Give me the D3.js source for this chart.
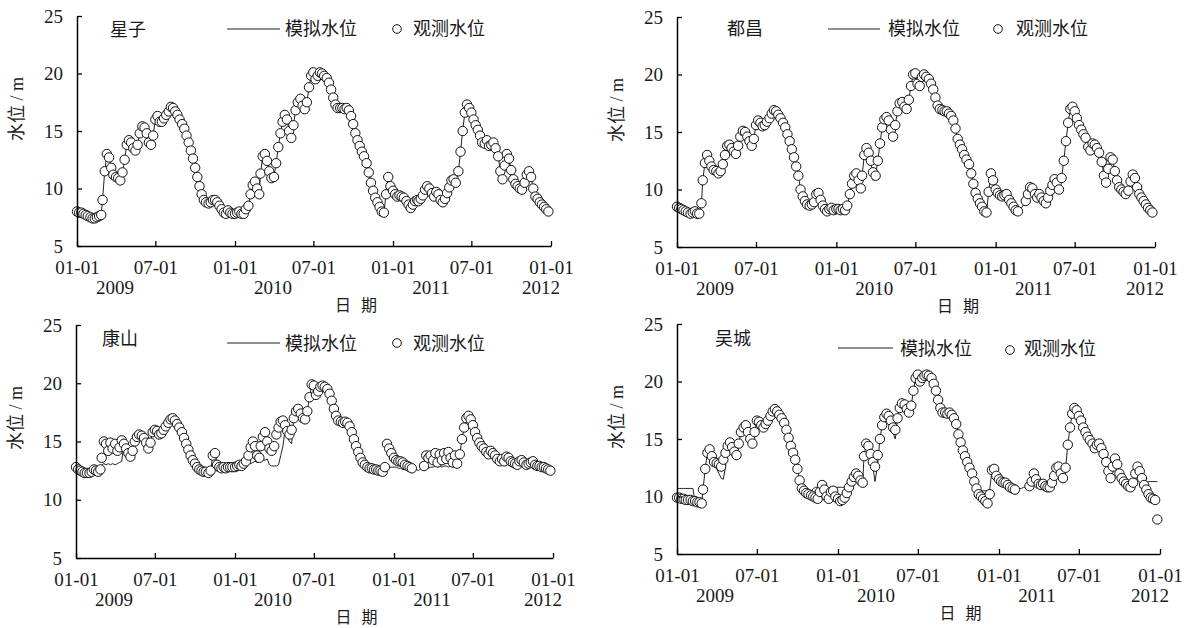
<!DOCTYPE html>
<html>
<head>
<meta charset="utf-8">
<script src="https://cdn.jsdelivr.net/npm/d3@7"></script>
<style>
  body { margin: 0; background: #fff; }
  svg { display: block; }
</style>
</head>
<body>
<svg id="chart" width="1188" height="628"></svg>
<script>
// 每月取 1、6、11、16、21、26 日的读数，2009-01 至 2011-12
const years = [2009, 2010, 2011];
const sampleDays = [1, 6, 11, 16, 21, 26];

const stations = ['星子', '都昌', '康山', '吴城'];
const legendSim = '模拟水位';
const legendObs = '观测水位';
const xTickDates = ['2009-01-01', '2009-07-01', '2010-01-01', '2010-07-01', '2011-01-01', '2011-07-01', '2012-01-01'];
const xTickLabels = ['01-01', '07-01', '01-01', '07-01', '01-01', '07-01', '01-01'];
const yearLabels = ['2009', '2010', '2011', '2012'];
const yTicks = [5, 10, 15, 20, 25];

const obsXingzi = [
  8.0, 7.9, 7.9, 7.8, 7.7, 7.6,  7.5, 7.4, 7.4, 7.5, 7.6, 7.7,
  9.0, 11.5, 13.0, 12.7, 11.8, 11.2,  11.0, 10.9, 10.7, 11.4, 12.5, 13.8,
  14.2, 14.0, 13.5, 13.3, 13.8, 14.8,  15.4, 15.3, 14.8, 14.0, 13.8, 14.6,
  16.0, 16.3, 15.8, 15.8, 16.1, 16.4,  16.7, 17.1, 17.0, 16.7, 16.4, 16.0,
  15.6, 15.2, 14.6, 14.0, 13.3, 12.6,  11.8, 11.0, 10.2, 9.5, 9.0, 8.8,
  8.7, 8.8, 9.0, 9.0, 8.8, 8.5,  8.2, 7.9, 7.8, 8.1, 7.9, 7.8,
  7.8, 7.9, 8.0, 7.8, 7.8, 8.2,  8.5, 9.5, 10.3, 10.6, 10.0, 9.5,
  11.3, 12.8, 13.0, 12.4, 11.5, 10.9,  11.0, 12.2, 13.6, 14.8, 15.8, 16.4,
  16.0, 15.0, 14.4, 15.5, 16.8, 17.5,  17.8, 17.2, 16.9, 17.5, 18.8, 19.8,
  20.1, 19.5, 19.8, 20.1, 20.0, 19.8,  19.6, 19.2, 18.6, 17.9, 17.3, 17.0,
  17.0, 17.0, 16.9, 17.0, 16.8, 16.3,  15.6, 14.8, 14.2, 13.7, 13.2, 12.8,
  12.2, 11.4, 10.5, 9.8, 9.2, 8.8,  8.4, 8.0, 7.9, 9.5, 11.0, 10.2,
  9.8, 9.5, 9.3, 9.4, 9.3, 9.2,  8.9, 8.6, 8.3, 8.6, 8.9, 9.0,
  8.9, 9.1, 9.4, 9.9, 10.2, 10.0,  9.6, 9.3, 9.7, 9.5, 9.0, 8.8,
  9.1, 9.6, 10.1, 10.7, 10.8, 10.5,  11.5, 13.2, 15.0, 16.6, 17.3, 17.0,
  16.6, 16.0, 15.5, 15.1, 14.6, 14.0,  13.9, 14.2, 13.7, 13.8, 14.0, 13.5,
  12.8, 11.5, 10.8, 12.0, 13.0, 12.6,  11.6, 10.8, 10.4, 10.2, 10.0, 9.9,
  10.5, 11.2, 11.5, 11.0, 10.0, 9.3,  9.1, 8.8, 8.6, 8.4, 8.2, 8.0
];
const simXingzi = [
  8.0, 7.9, 7.9, 7.8, 7.7, 7.6,  7.5, 7.4, 7.4, 7.5, 7.6, 7.7,
  9.0, 11.5, 13.0, 12.7, 11.8, 11.2,  11.0, 10.9, 10.7, 11.4, 12.5, 13.8,
  14.2, 14.0, 13.5, 13.3, 13.8, 14.8,  15.4, 15.3, 14.8, 14.0, 13.8, 14.6,
  16.0, 16.3, 15.8, 15.8, 16.1, 16.4,  16.7, 17.1, 17.0, 16.7, 16.4, 16.0,
  15.6, 15.2, 14.6, 14.0, 13.3, 12.6,  11.8, 11.0, 10.2, 9.5, 9.0, 8.8,
  8.7, 8.8, 9.0, 9.0, 8.8, 8.5,  8.2, 7.9, 7.8, 8.1, 7.9, 7.8,
  7.8, 7.9, 8.0, 7.8, 7.8, 8.2,  8.5, 9.5, 10.3, 10.6, 10.0, 9.5,
  11.3, 12.8, 13.0, 12.4, 11.5, 10.9,  11.0, 12.2, 13.6, 14.8, 15.8, 16.4,
  16.0, 15.0, 14.4, 15.5, 16.8, 17.5,  17.8, 17.2, 16.9, 17.5, 18.8, 19.8,
  20.1, 19.5, 19.8, 20.1, 20.0, 19.8,  19.6, 19.2, 18.6, 17.9, 17.3, 17.0,
  17.0, 17.0, 16.9, 17.0, 16.8, 16.3,  15.6, 14.8, 14.2, 13.7, 13.2, 12.8,
  12.2, 11.4, 10.5, 9.8, 9.2, 8.8,  8.4, 8.0, 7.9, 9.5, 11.0, 10.2,
  9.8, 9.5, 9.3, 9.4, 9.3, 9.2,  8.9, 8.6, 8.3, 8.6, 8.9, 9.0,
  8.9, 9.1, 9.4, 9.9, 10.2, 10.0,  9.6, 9.3, 9.7, 9.5, 9.0, 8.8,
  9.1, 9.6, 10.1, 10.7, 10.8, 10.5,  11.5, 13.2, 15.0, 16.6, 17.3, 17.0,
  16.6, 16.0, 15.5, 15.1, 14.6, 14.0,  13.9, 14.2, 13.7, 13.8, 14.0, 13.5,
  12.8, 11.5, 10.8, 12.0, 13.0, 12.6,  11.6, 10.8, 10.4, 10.2, 10.0, 9.9,
  10.5, 11.2, 11.5, 11.0, 10.0, 9.3,  9.1, 8.8, 8.6, 8.4, 8.2, 8.0
];

const obsDuchang = [
  8.5, 8.4, 8.3, 8.2, 8.1, 8.0,  7.9, 8.0, 8.1, 7.9, 7.9, 8.8,
  10.8, 12.3, 13.0, 12.5, 12.0, 11.7,  11.6, 11.4, 11.6, 12.2, 13.0, 13.8,
  13.9, 13.6, 13.3, 13.1, 13.8, 14.6,  15.1, 15.0, 14.6, 14.2, 13.8, 14.4,
  15.6, 16.0, 15.8, 15.5, 15.6, 15.9,  16.2, 16.6, 16.9, 16.8, 16.5, 16.2,
  15.8, 15.4, 14.8, 14.2, 13.5, 12.8,  12.0, 11.2, 10.0, 9.4, 9.0, 8.7,
  8.6, 8.7, 8.9, 9.6, 9.7, 9.1,  8.6, 8.3, 8.1, 8.3, 8.4, 8.2,
  8.3, 8.3, 8.2, 8.3, 8.2, 8.6,  9.6, 10.5, 11.2, 11.4, 10.8, 10.1,
  11.2, 13.0, 13.6, 13.2, 12.5, 11.5,  11.2, 12.5, 14.0, 15.4, 16.1, 16.3,
  16.0, 15.2, 14.6, 15.6, 16.8, 17.5,  17.6, 17.2, 17.0, 17.8, 19.0, 20.0,
  20.1, 19.2, 19.0, 19.8, 20.0, 19.8,  19.6, 19.2, 18.7, 18.0, 17.3, 17.0,
  16.9, 16.8, 16.8, 16.6, 16.4, 16.0,  15.3, 14.4, 13.9, 13.5, 13.0, 12.6,
  12.2, 11.4, 10.5, 9.7, 9.2, 8.8,  8.5, 8.1, 8.0, 9.8, 11.4, 10.8,
  10.0, 9.7, 9.5, 9.4, 9.5, 9.6,  9.1, 8.8, 8.5, 8.2, 8.1, null,
  null, null, 9.0, 9.6, 10.2, 10.1,  9.6, 9.3, 9.6, 9.3, 9.0, 8.8,
  9.3, 9.9, 10.4, 10.9, 10.6, 10.0,  11.0, 12.5, 14.2, 15.8, 17.0, 17.2,
  16.8, 16.2, 15.6, 15.2, 14.8, 14.5,  13.7, 13.4, 14.0, 13.9, 13.6, 13.2,
  12.4, 11.2, 10.6, 11.8, 12.8, 12.6,  11.6, 10.8, 10.2, 10.0, 9.8, 9.6,
  9.9, 10.7, 11.3, 11.0, 10.2, 9.6,  9.3, 9.0, 8.7, 8.4, 8.2, 8.0
];
const simDuchang = [
  8.5, 8.4, 8.3, 8.2, 8.1, 8.0,  7.9, 8.0, 8.1, 7.9, 7.9, 8.8,
  10.8, 12.3, 13.0, 12.5, 12.0, 11.7,  11.6, 11.4, 11.6, 12.2, 13.0, 13.8,
  13.9, 13.6, 13.3, 13.1, 13.8, 14.6,  15.1, 15.0, 14.6, 14.2, 13.8, 14.4,
  15.6, 16.0, 15.8, 15.5, 15.6, 15.9,  16.2, 16.6, 16.9, 16.8, 16.5, 16.2,
  15.8, 15.4, 14.8, 14.2, 13.5, 12.8,  12.0, 11.2, 10.0, 9.4, 9.0, 8.7,
  8.6, 8.7, 8.9, 9.6, 9.7, 9.1,  8.6, 8.3, 8.1, 8.3, 8.4, 8.2,
  8.3, 8.3, 8.2, 8.3, 8.2, 8.6,  9.6, 10.5, 11.2, 11.4, 10.8, 10.1,
  11.2, 13.0, 13.6, 13.2, 12.5, 10.8,  11.2, 12.5, 14.0, 15.4, 16.1, 16.3,
  16.0, 15.2, 14.6, 15.6, 16.8, 17.5,  17.6, 17.2, 17.0, 17.8, 19.0, 20.0,
  20.1, 19.2, 19.0, 19.8, 20.0, 19.8,  19.6, 19.2, 18.7, 18.0, 17.3, 17.0,
  16.9, 16.8, 16.8, 16.6, 16.4, 16.0,  15.3, 14.4, 13.9, 13.5, 13.0, 12.6,
  12.2, 11.4, 10.5, 9.7, 9.2, 8.8,  8.5, 8.1, 8.0, 9.8, 11.4, 10.8,
  10.0, 9.7, 9.5, 9.4, 9.5, 9.6,  9.1, 8.8, 8.5, 8.2, 8.1, 8.2,
  8.4, 8.7, 9.0, 9.6, 10.2, 10.1,  9.6, 9.3, 9.6, 9.3, 9.0, 8.8,
  9.3, 9.9, 10.4, 10.9, 10.6, 10.0,  11.0, 12.5, 14.2, 15.8, 17.0, 17.2,
  16.8, 16.2, 15.6, 15.2, 14.8, 14.5,  13.7, 13.4, 14.0, 13.9, 13.6, 13.2,
  12.4, 11.2, 10.6, 11.8, 12.8, 12.6,  11.6, 10.8, 10.2, 10.0, 9.8, 9.6,
  9.9, 10.7, 11.3, 11.0, 10.2, 9.6,  9.3, 9.0, 8.7, 8.4, 8.2, 8.0
];

const obsKangshan = [
  12.8, 12.6, 12.5, 12.4, 12.3, 12.3,  12.3, 12.4, 12.6, 12.5, 12.4, 12.6,
  13.6, 15.0, 14.8, 14.2, 14.9, 14.4,  14.8, 14.2, 14.5, 15.1, 14.8, 14.4,
  14.0, 13.7, 14.2, 15.0, 15.4, 15.6,  15.5, 15.3, 14.9, 14.4, 14.9, 15.8,
  16.0, 15.9, 15.6, 15.7, 16.0, 16.3,  16.6, 16.9, 17.0, 16.8, 16.5, 16.2,
  15.8, 15.3, 14.8, 14.3, 13.8, 13.4,  13.1, 12.8, 12.6, 12.5, 12.4, 12.4,
  12.3, 12.5, 13.8, 14.0, 13.0, 12.8,  12.7, 12.8, 12.7, 12.8, 12.8, 12.8,
  12.8, 12.9, 13.0, 12.9, 13.1, 13.3,  13.8, 14.5, 15.0, 14.6, 13.8, 13.6,
  14.6, 15.4, 15.8, 15.0, 14.4, 14.2,  14.6, 15.6, 16.2, 16.7, 16.8, 16.4,
  15.9, 15.6, 16.0, 17.0, 17.6, 17.8,  17.4, 17.0, 16.9, 17.6, 18.8, 19.9,
  19.8, 19.0, 19.3, 19.7, 19.8, 19.7,  19.5, 19.1, 18.5, 17.8, 17.2, 16.8,
  16.7, 16.6, 16.7, 16.6, 16.3, 15.8,  15.2, 14.6, 14.1, 13.6, 13.2, 13.0,
  12.8, 12.7, 12.7, 12.6, 12.6, 12.5,  12.5, 12.4, 12.8, 14.8, 14.4, 14.0,
  13.6, 13.4, 13.3, 13.3, 13.2, 13.0,  12.9, 12.8, 12.7, null, null, null,
  null, null, 12.9, 13.8, 13.6, 13.8,  13.4, 14.0, 13.2, 13.9, 13.4, 14.0,
  13.5, 14.1, 13.6, 13.2, 13.8, 13.1,  13.9, 15.2, 16.2, 17.0, 17.2, 16.9,
  16.4, 15.8, 15.3, 14.9, 14.6, 14.4,  14.1, 13.9, 14.2, 14.0, 13.8, 13.5,
  13.3, 13.5, 13.3, 13.7, 13.6, 13.3,  13.2, 13.1, 13.0, 13.3, 13.4, 13.2,
  13.0, 13.1, 13.2, 13.3, 13.0, 12.9,  12.9, 12.8, 12.8, 12.7, 12.6, 12.5
];
const simKangshan = [
  12.8, 12.6, 12.5, 12.4, 12.3, 12.3,  12.3, 12.4, 12.6, 12.5, 12.4, 12.6,
  13.0, 13.1, 13.0, 13.1, 13.0, 13.1,  13.0, 13.1, 13.2, 13.3, 14.8, 14.4,
  14.0, 13.7, 14.2, 15.0, 15.4, 15.6,  15.5, 15.3, 14.9, 14.4, 14.9, 15.8,
  16.0, 15.9, 15.6, 15.7, 16.0, 16.3,  16.6, 16.9, 17.0, 16.8, 16.5, 16.2,
  15.8, 15.3, 14.8, 14.3, 13.8, 13.4,  13.1, 12.8, 12.6, 12.5, 12.4, 12.4,
  12.3, 12.5, 13.8, 14.0, 13.0, 12.8,  12.7, 12.8, 12.7, 12.8, 12.8, 12.8,
  12.8, 12.9, 13.0, 12.9, 13.1, 13.3,  13.2, 13.1, 13.2, 13.3, 13.2, 13.6,
  13.9, 13.4, 13.4, 13.5, 13.0, 12.9,  12.9, 12.9, 13.0, 13.8, 14.6, 16.0,
  15.4, 15.0, 14.8, 17.0, 17.6, 17.8,  17.4, 17.0, 16.9, 17.6, 18.8, 19.9,
  19.8, 19.0, 19.3, 19.7, 19.8, 19.7,  19.5, 19.1, 18.5, 17.8, 17.2, 16.8,
  16.7, 16.6, 16.7, 16.6, 16.3, 15.8,  15.2, 14.6, 14.1, 13.6, 13.2, 13.0,
  12.8, 12.7, 12.7, 12.6, 12.6, 12.5,  12.5, 12.4, 12.6, 12.8, 12.8, 12.8,
  12.8, 12.8, 12.7, 12.7, 12.6, 12.6,  12.6, 12.6, 12.5, 12.5, 12.6, 12.5,
  12.6, 12.7, 12.6, 12.8, 12.7, 12.8,  12.8, 12.9, 12.8, 12.9, 12.8, 12.9,
  12.9, 12.8, 12.9, 12.8, 12.9, 12.8,  13.9, 15.2, 16.2, 17.0, 17.2, 16.9,
  16.4, 15.8, 15.3, 14.9, 14.6, 14.4,  14.1, 13.9, 14.2, 14.0, 13.8, 13.5,
  13.3, 13.5, 13.3, 13.7, 13.6, 13.3,  13.2, 13.1, 13.0, 13.3, 13.4, 13.2,
  13.0, 13.1, 13.2, 13.3, 13.0, 12.9,  12.9, 12.8, 12.8, 12.7, 12.6, 12.5
];

const obsWucheng = [
  9.9, 9.9, 9.8, 9.8, 9.7, 9.7,  9.7, 9.6, 9.6, 9.5, 9.5, 9.4,
  10.6, 12.4, 13.8, 14.1, 13.5, 13.0,  12.9, 12.8, 12.6, 13.2, 13.8, 14.4,
  14.7, 14.3, 13.9, 13.6, 14.6, 15.6,  16.0, 16.2, 15.6, 15.0, 14.6, 15.6,
  16.6, 16.5, 16.2, 16.0, 16.3, 16.6,  17.0, 17.4, 17.6, 17.4, 17.1, 16.8,
  16.4, 15.8, 15.1, 14.4, 13.8, 13.2,  12.4, 11.4, 10.7, 10.5, 10.3, 10.2,
  10.1, 10.0, 9.9, 9.8, 10.4, 11.0,  10.6, 10.0, 9.8, 10.4, 10.5, 10.0,
  9.8, 9.6, 9.7, 9.9, 10.3, 10.8,  11.3, 11.7, 12.0, 11.8, 11.4, 11.2,
  13.5, 14.6, 14.4, 13.7, 13.0, 12.6,  13.6, 15.0, 16.2, 16.9, 17.2, 17.0,
  16.6, 16.0, 15.8, 16.8, 17.7, 18.1,  18.0, 17.6, 17.3, 17.9, 19.2, 20.3,
  20.6, 20.0, 20.3, 20.5, 20.6, 20.5,  20.3, 19.8, 19.2, 18.4, 17.7, 17.3,
  17.3, 17.2, 17.3, 17.1, 16.8, 16.3,  15.4, 14.7, 14.0, 13.5, 13.0, 12.5,
  12.0, 11.3, 10.7, 10.2, 10.0, 9.8,  9.6, 9.4, 10.2, 12.3, 12.4, 11.8,
  11.5, 11.3, 11.2, 11.2, 11.0, 10.8,  10.7, 10.6, null, null, null, null,
  null, null, 10.9, 11.3, 12.0, 11.5,  11.1, 11.0, 11.1, 10.9, 10.8, 10.8,
  11.2, 11.8, 12.5, 12.6, 12.0, 11.6,  12.5, 14.5, 16.0, 17.2, 17.7, 17.5,
  17.0, 16.6, 16.0, 15.6, 15.2, 14.9,  14.6, 14.2, 14.5, 14.6, 14.2, 13.7,
  13.0, 12.2, 11.6, 12.6, 13.3, 12.8,  12.0, 11.6, 11.3, 11.1, 10.9, 10.8,
  11.2, 12.0, 12.6, 12.2, 11.6, 11.0,  10.6, 10.2, 9.9, 9.8, 9.7, 8.0
];
const simWucheng = [
  10.7, 10.7, 10.7, 10.7, 10.7, 10.7,  10.7, 10.7, 9.6, 9.5, 9.5, 9.4,
  10.6, 12.4, 13.8, 14.1, 13.5, 13.0,  12.4, 12.0, 11.6, 11.5, 12.6, 14.4,
  14.7, 14.3, 13.9, 13.6, 14.6, 15.6,  16.0, 16.2, 15.6, 15.0, 14.6, 15.6,
  16.6, 16.5, 16.2, 16.0, 16.3, 16.6,  17.0, 17.4, 17.6, 17.4, 17.1, 16.8,
  16.4, 15.8, 15.1, 14.4, 13.8, 13.2,  12.4, 11.4, 10.7, 10.5, 10.3, 10.2,
  10.4, 10.7, 10.8, 10.8, 10.6, 11.0,  10.6, 10.0, 9.8, 10.4, 10.6, 10.8,
  10.8, 10.8, 10.8, 10.8, 10.6, 10.8,  11.3, 11.7, 12.0, 11.8, 11.4, 11.2,
  13.5, 14.6, 14.4, 13.7, 12.6, 11.3,  12.8, 15.0, 16.2, 16.9, 17.2, 17.0,
  16.6, 15.5, 15.0, 16.8, 17.7, 18.1,  18.0, 17.6, 17.3, 17.9, 19.2, 20.3,
  20.6, 20.0, 20.3, 20.5, 20.6, 20.5,  20.3, 19.8, 19.2, 18.4, 17.7, 17.3,
  17.3, 17.2, 17.3, 17.1, 16.8, 16.3,  15.4, 14.7, 14.0, 13.5, 13.0, 12.5,
  12.0, 11.3, 10.7, 10.6, 10.5, 10.5,  10.5, 10.5, 10.6, 12.3, 12.4, 11.8,
  11.5, 11.3, 11.2, 11.2, 11.0, 10.8,  10.7, 10.6, 10.6, 10.7, 10.7, 10.8,
  10.8, 10.9, 10.9, 11.3, 12.0, 11.5,  11.1, 11.0, 11.1, 10.9, 10.8, 10.8,
  11.2, 11.8, 12.5, 12.6, 12.0, 11.6,  12.5, 14.5, 16.0, 17.2, 17.7, 17.5,
  17.0, 16.6, 16.0, 15.6, 15.2, 14.9,  14.6, 14.2, 14.5, 14.6, 14.2, 13.7,
  13.0, 12.2, 11.6, 12.6, 13.3, 12.8,  12.0, 11.6, 11.3, 11.1, 10.9, 10.8,
  11.2, 12.0, 12.6, 12.2, 11.6, 11.3,  11.3, 11.3, 11.3, 11.3, 11.3, 11.3
];

const dates = [];
years.forEach(y => d3.range(12).forEach(m => sampleDays.forEach(d => dates.push(new Date(y, m, d)))));
const parse = d3.timeParse('%Y-%m-%d');

const numFont = '"Liberation Serif", "Times New Roman", serif';
const cjkFont = '"Noto Sans CJK SC", "Noto Sans CJK JP", sans-serif';
const ink = '#1a1a1a';

const panels = [
  {name: stations[0], obs: obsXingzi, sim: simXingzi, left: 77, right: 551, top: 16, bottom: 246,
   title: [110, 36], leg: {x1: 227, x2: 280, y: 29, t1: 285, base: 35, cx: 397, cy: 29, t2: 413}},
  {name: stations[1], obs: obsDuchang, sim: simDuchang, left: 677, right: 1155, top: 17, bottom: 247,
   title: [727, 35], leg: {x1: 828, x2: 880, y: 29, t1: 888, base: 35, cx: 998, cy: 29, t2: 1016}},
  {name: stations[2], obs: obsKangshan, sim: simKangshan, left: 76, right: 553, top: 325, bottom: 558,
   title: [102, 345], leg: {x1: 227, x2: 280, y: 343, t1: 285, base: 350, cx: 397, cy: 343, t2: 413}},
  {name: stations[3], obs: obsWucheng, sim: simWucheng, left: 677, right: 1160, top: 324, bottom: 554,
   title: [715, 345], leg: {x1: 838, x2: 893, y: 348, t1: 900, base: 355, cx: 1010, cy: 350, t2: 1024}}
];

const svg = d3.select('#chart');
svg.append('rect').attr('width', 1188).attr('height', 628).attr('fill', '#fff');

function drawPanel(p) {
  const x = d3.scaleTime()
    .domain([parse(xTickDates[0]), parse(xTickDates[xTickDates.length - 1])])
    .range([p.left, p.right]);
  const y = d3.scaleLinear().domain([5, 25]).range([p.bottom, p.top]);

  const g = svg.append('g');

  // 模拟水位
  const line = d3.line()
    .x((d, i) => x(dates[i]))
    .y(d => y(d));
  g.append('path')
    .attr('d', line(p.sim))
    .attr('fill', 'none')
    .attr('stroke', '#222')
    .attr('stroke-width', 1);

  // 观测水位
  g.selectAll('circle.obs')
    .data(p.obs.map((v, i) => ({v: v, d: dates[i]})).filter(o => o.v != null))
    .enter()
    .append('circle')
    .attr('class', 'obs')
    .attr('cx', o => x(o.d))
    .attr('cy', o => y(o.v))
    .attr('r', 4.7)
    .attr('fill', '#fff')
    .attr('stroke', '#111')
    .attr('stroke-width', 1);

  const xAxis = d3.axisBottom(x)
    .tickValues(xTickDates.map(parse))
    .tickFormat((d, i) => xTickLabels[i])
    .tickSizeInner(-5)
    .tickSizeOuter(0)
    .tickPadding(15);
  const gx = g.append('g')
    .attr('transform', 'translate(0,' + p.bottom + ')')
    .call(xAxis);

  const yAxis = d3.axisLeft(y)
    .tickValues(yTicks)
    .tickSizeInner(-5)
    .tickSizeOuter(0)
    .tickPadding(14);
  const gy = g.append('g')
    .attr('transform', 'translate(' + p.left + ',0)')
    .call(yAxis);

  [gx, gy].forEach(a => {
    a.select('.domain').attr('stroke', '#000').attr('stroke-width', 1.5);
    a.selectAll('.tick line').attr('stroke', '#000').attr('stroke-width', 1.3);
    a.selectAll('.tick text')
      .attr('fill', ink)
      .style('font-family', numFont)
      .style('font-size', '19px');
  });

  // 年份
  g.selectAll('text.year')
    .data(yearLabels)
    .enter()
    .append('text')
    .attr('class', 'year')
    .attr('x', (d, i) => x(parse(d + '-01-01')) + (i < yearLabels.length - 1 ? 38 : -10))
    .attr('y', p.bottom + 48)
    .attr('text-anchor', 'middle')
    .attr('fill', ink)
    .style('font-family', numFont)
    .style('font-size', '19px')
    .text(d => d);

  g.append('text')
    .attr('x', (p.left + p.right) / 2 + 21)
    .attr('y', p.bottom + 65)
    .attr('fill', ink)
    .style('font-family', cjkFont)
    .style('font-size', '16px')
    .style('letter-spacing', '10px')
    .text('日期');

  g.append('text')
    .attr('transform', 'translate(' + (p.left - 54) + ',' + (p.top + 93) + ') rotate(-90)')
    .attr('text-anchor', 'middle')
    .attr('fill', ink)
    .style('font-family', numFont + ', ' + cjkFont)
    .style('font-size', '18px')
    .text('水位 / m');

  g.append('text')
    .attr('x', p.title[0])
    .attr('y', p.title[1])
    .attr('fill', ink)
    .style('font-family', cjkFont)
    .style('font-size', '18px')
    .text(p.name);

  const L = p.leg;
  g.append('line')
    .attr('x1', L.x1).attr('x2', L.x2)
    .attr('y1', L.y).attr('y2', L.y)
    .attr('stroke', '#222').attr('stroke-width', 1.2);
  g.append('text')
    .attr('x', L.t1).attr('y', L.base)
    .attr('fill', ink)
    .style('font-family', cjkFont)
    .style('font-size', '18px')
    .text(legendSim);
  g.append('circle')
    .attr('cx', L.cx).attr('cy', L.cy).attr('r', 4.3)
    .attr('fill', '#fff').attr('stroke', '#111').attr('stroke-width', 1);
  g.append('text')
    .attr('x', L.t2).attr('y', L.base)
    .attr('fill', ink)
    .style('font-family', cjkFont)
    .style('font-size', '18px')
    .text(legendObs);
}

panels.forEach(drawPanel);
</script>
</body>
</html>
